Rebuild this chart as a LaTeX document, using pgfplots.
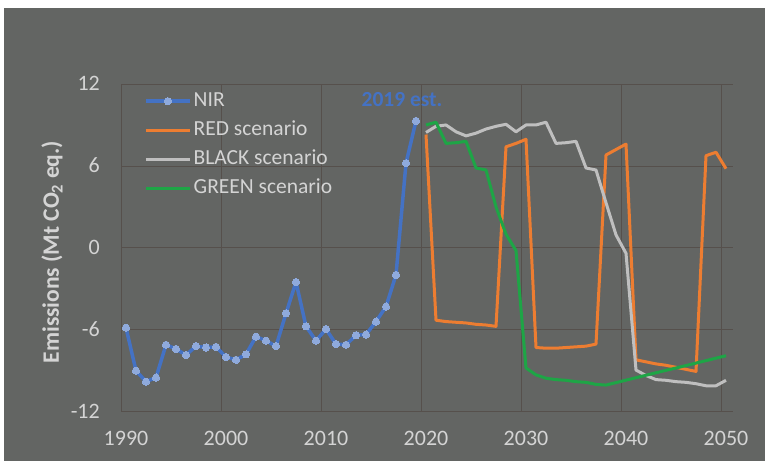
\documentclass[border=0pt]{standalone}
\usepackage{fontspec}
\setmainfont{Carlito}
\usepackage{pgfplots}
\pgfplotsset{compat=1.18}

\definecolor{bg}{RGB}{99,101,99}
\definecolor{gridc}{RGB}{86,80,76}
\definecolor{txt}{RGB}{212,212,212}
\definecolor{nirline}{RGB}{68,114,196}
\definecolor{nirmark}{RGB}{143,170,220}
\definecolor{redsc}{RGB}{237,125,49}
\definecolor{blacksc}{RGB}{191,191,191}
\definecolor{greensc}{RGB}{30,165,70}

\begin{document}
\begin{tikzpicture}
\fill[white] (0bp,0bp) rectangle (765bp,461bp);
\fill[bg] (4bp,0bp) rectangle (765bp,453bp);
\path[use as bounding box] (0bp,0bp) rectangle (765bp,461bp);
\begin{axis}[
  at={(121bp,49.3bp)}, anchor=south west,
  width=612bp, height=327.7bp, scale only axis,
  xmin=1989.5, xmax=2050.7, ymin=-12, ymax=12,
  xtick={1990,2000,2010,2020,2030,2040,2050},
  xticklabels={1990,2000,2010,2020,2030,2040,2050},
  ytick={-12,-6,0,6,12},
  yticklabels={-12,-6,0,6,12},
  extra x ticks={1989.5,1999.5,2009.5,2019.5,2029.5,2039.5,2049.5},
  extra x tick labels={},
  extra x tick style={grid=major},
  ymajorgrids=true,
  axis line style={draw=none},
  tick style={draw=none},
  major grid style={draw=gridc, line width=0.8bp},
  tick label style={text=txt, font=\fontsize{22bp}{26bp}\selectfont},
  xticklabel style={anchor=base, yshift=-33.5bp, inner sep=0pt},
  yticklabel style={anchor=base east, xshift=-21bp, yshift=-7bp, inner sep=0pt},
  ylabel={Emissions (Mt CO\textsubscript{2} eq.)},
  ylabel style={at={(axis description cs:-0.1127,0.487)}, anchor=center,
    text=txt, font=\fontsize{23.5bp}{28bp}\selectfont\bfseries},
  legend style={at={(rel axis cs:0.0376,0.9847)}, anchor=north west,
    draw=none, fill=none, inner sep=0pt, text=txt,
    font=\fontsize{21.5bp}{25bp}\selectfont, row sep=5bp,
    nodes={inner sep=2bp, text height=15bp, text depth=5bp}},
  legend cell align=left,
  legend image code/.code={\draw[mark repeat=2,mark phase=2]
    plot coordinates {(0bp,0bp) (22bp,0bp) (44bp,0bp)};},
  every axis plot/.append style={line join=round},
]
\addplot[nirline, line width=3.5bp, mark=*, mark size=3.6bp,
  mark options={fill=nirmark, draw=nirmark, line width=0pt}] coordinates {
(1990,-5.85) (1991,-9.0) (1992,-9.8) (1993,-9.5) (1994,-7.1)
(1995,-7.4) (1996,-7.85) (1997,-7.2) (1998,-7.3) (1999,-7.25)
(2000,-8.0) (2001,-8.2) (2002,-7.8) (2003,-6.5) (2004,-6.8)
(2005,-7.2) (2006,-4.8) (2007,-2.5) (2008,-5.75) (2009,-6.8)
(2010,-5.95) (2011,-7.05) (2012,-7.1) (2013,-6.4) (2014,-6.35)
(2015,-5.4) (2016,-4.3) (2017,-1.98) (2018,6.2) (2019,9.3)
};
\addplot[redsc, line width=3bp, no markers] coordinates {
(2020,8.3) (2021,-5.3) (2022,-5.4) (2023,-5.45) (2024,-5.5)
(2025,-5.6) (2026,-5.65) (2027,-5.75) (2028,7.4) (2029,7.65)
(2030,7.95) (2031,-7.3) (2032,-7.35) (2033,-7.35) (2034,-7.3)
(2035,-7.25) (2036,-7.2) (2037,-7.05) (2038,6.8) (2039,7.2)
(2040,7.6) (2041,-8.2) (2042,-8.35) (2043,-8.5) (2044,-8.6)
(2045,-8.75) (2046,-8.9) (2047,-9.05) (2048,6.75) (2049,7.0)
(2050,5.8)
};
\addplot[blacksc, line width=3bp, no markers] coordinates {
(2020,8.45) (2021,8.9) (2022,9.0) (2023,8.5) (2024,8.2)
(2025,8.4) (2026,8.7) (2027,8.9) (2028,9.05) (2029,8.5)
(2030,9.0) (2031,9.0) (2032,9.2) (2033,7.65) (2034,7.7)
(2035,7.8) (2036,5.85) (2037,5.7) (2038,3.3) (2039,0.95)
(2040,-0.4) (2041,-8.95) (2042,-9.35) (2043,-9.65) (2044,-9.7)
(2045,-9.8) (2046,-9.85) (2047,-9.95) (2048,-10.1) (2049,-10.1)
(2050,-9.7)
};
\addplot[greensc, line width=3bp, no markers] coordinates {
(2020,9.0) (2021,9.2) (2022,7.65) (2023,7.7) (2024,7.8)
(2025,5.85) (2026,5.7) (2027,3.0) (2028,1.0) (2029,-0.2)
(2030,-8.8) (2031,-9.3) (2032,-9.55) (2033,-9.65) (2034,-9.7)
(2035,-9.8) (2036,-9.85) (2037,-10.0) (2038,-10.05) (2039,-9.87)
(2040,-9.69) (2041,-9.51) (2042,-9.33) (2043,-9.15) (2044,-8.97)
(2045,-8.8) (2046,-8.62) (2047,-8.44) (2048,-8.26) (2049,-8.08)
(2050,-7.9)
};
\legend{NIR, RED scenario, BLACK scenario, GREEN scenario}
\node[text=nirline, font=\fontsize{21.5bp}{25bp}\selectfont\bfseries]
  at (axis cs:2017.6,10.83) {2019 est.};
\end{axis}
\end{tikzpicture}
\end{document}
